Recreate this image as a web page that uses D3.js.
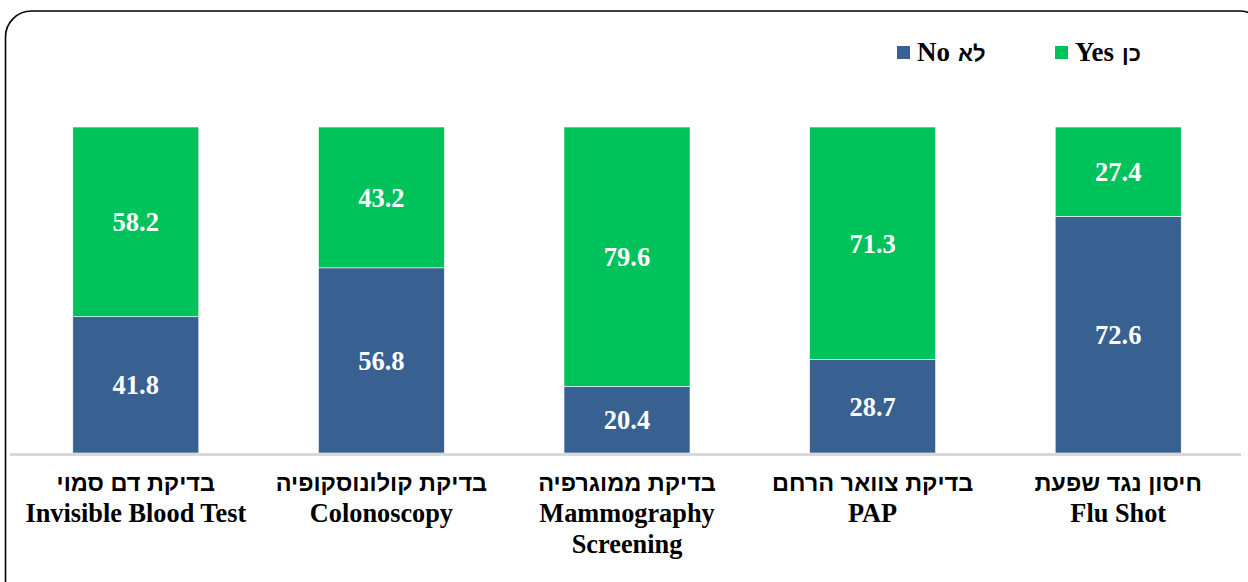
<!DOCTYPE html>
<html lang="he">
<head>
  <meta charset="UTF-8">
  <title>Screening tests</title>
  <script src="https://d3js.org/d3.v7.min.js"></script>
  <style>
    body { margin: 0; background: #fff; }
    svg { display: block; }
    .serif { font-family: "Liberation Serif", "Times New Roman", serif; font-weight: bold; }
    .sans { font-family: "Liberation Sans", Arial, sans-serif; font-weight: bold; }
  </style>
</head>
<body>
  <div id="vis"></div>

  <script>
    const hebrewLabels = ["בדיקת דם סמוי", "בדיקת קולונוסקופיה", "בדיקת ממוגרפיה", "בדיקת צוואר הרחם", "חיסון נגד שפעת"];
    const englishLabels = [["Invisible Blood Test"], ["Colonoscopy"], ["Mammography", "Screening"], ["PAP"], ["Flu Shot"]];
    const noValues = [41.8, 56.8, 20.4, 28.7, 72.6];
    const yesValues = [58.2, 43.2, 79.6, 71.3, 27.4];

    const W = 1248, H = 582;
    const blue = "#386192", green = "#00C25A";

    const svg = d3.select("#vis").append("svg").attr("width", W).attr("height", H);

    // rounded frame
    svg.append("rect")
      .attr("x", 5.5).attr("y", 11).attr("width", 1260).attr("height", 600)
      .attr("rx", 26).attr("fill", "none").attr("stroke", "#000").attr("stroke-width", 1.6);

    const x = d3.scaleBand().domain(d3.range(5)).range([13, 1241]).paddingInner(0.487).paddingOuter(0.2435);
    const y = d3.scaleLinear().domain([0, 100]).range([453, 127]);

    const data = d3.range(5).map(i => ({ i, no: noValues[i], yes: yesValues[i] }));
    const stack = d3.stack().keys(["no", "yes"])(data);
    const colors = { no: blue, yes: green };

    stack.forEach(layer => {
      svg.append("g").selectAll("rect")
        .data(layer).enter().append("rect")
        .attr("x", d => x(d.data.i))
        .attr("y", d => y(d[1]))
        .attr("width", x.bandwidth())
        .attr("height", d => y(d[0]) - y(d[1]))
        .attr("fill", colors[layer.key])
        .attr("stroke", "#fff").attr("stroke-width", 0.6);

      svg.append("g").selectAll("text")
        .data(layer).enter().append("text")
        .attr("class", "serif")
        .attr("x", d => x(d.data.i) + x.bandwidth() / 2)
        .attr("y", d => (y(d[0]) + y(d[1])) / 2 + 9.5)
        .attr("text-anchor", "middle")
        .attr("fill", "#fff")
        .style("font-size", "26.5px")
        .text(d => (d[1] - d[0]).toFixed(1));
    });

    // baseline
    svg.append("line")
      .attr("x1", 10).attr("x2", 1241).attr("y1", y(0) + 1.5).attr("y2", y(0) + 1.5)
      .attr("stroke", "#d9d9d9").attr("stroke-width", 3);

    // category labels
    const labels = svg.append("g").selectAll("g").data(d3.range(5)).enter().append("g")
      .attr("transform", i => `translate(${x(i) + x.bandwidth() / 2},0)`);
    labels.append("text")
      .attr("class", "sans").attr("text-anchor", "middle").attr("y", 491)
      .attr("direction", "rtl")
      .style("font-size", "23.5px")
      .text(i => hebrewLabels[i]);
    labels.each(function (i) {
      englishLabels[i].forEach((t, k) => {
        d3.select(this).append("text")
          .attr("class", "serif").attr("text-anchor", "middle")
          .attr("transform", `translate(0,${522 + k * 31}) scale(0.94,1)`)
          .style("font-size", "28px")
          .text(t);
      });
    });

    // legend
    const legend = [
      { color: blue, en: "No", he: "לא", x: 897 },
      { color: green, en: "Yes", he: "כן", x: 1055 }
    ];
    legend.forEach(l => {
      svg.append("rect").attr("x", l.x).attr("y", 46).attr("width", 13).attr("height", 13).attr("fill", l.color);
      const t = svg.append("text").attr("x", l.x + 20).attr("y", 61);
      t.append("tspan").attr("class", "serif").style("font-size", "27px").text(l.en);
      t.append("tspan").attr("class", "sans").attr("dx", 8).style("font-size", "22px").text(l.he);
    });
  </script>
</body>
</html>
